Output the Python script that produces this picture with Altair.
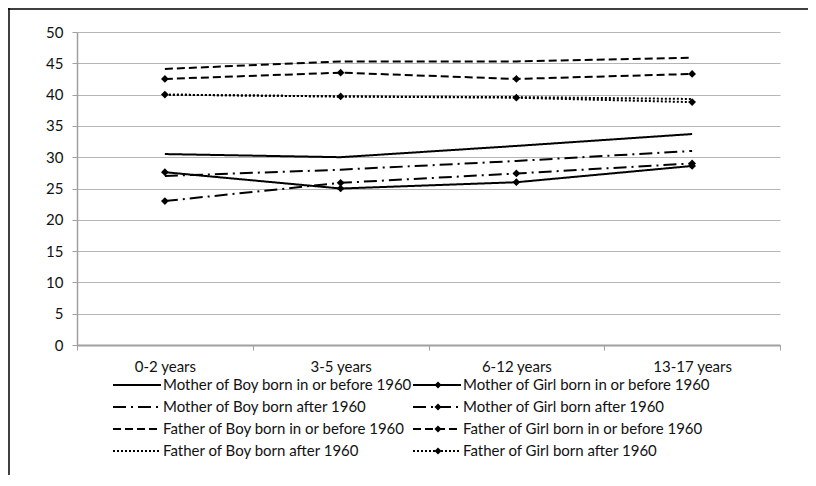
import altair as alt
import pandas as pd

categories = ["0-2 years", "3-5 years", "6-12 years", "13-17 years"]

# legend reads column by column: boys in the left column, girls in the right
series_names = [
    "Mother of Boy born in or before 1960",
    "Mother of Boy born after 1960",
    "Father of Boy born in or before 1960",
    "Father of Boy born after 1960",
    "Mother of Girl born in or before 1960",
    "Mother of Girl born after 1960",
    "Father of Girl born in or before 1960",
    "Father of Girl born after 1960",
]

mother_boy_before = [30.5, 30.0, 31.8, 33.7]
mother_boy_after = [27.0, 28.0, 29.4, 31.0]
father_boy_before = [44.1, 45.3, 45.3, 45.9]
father_boy_after = [40.0, 39.7, 39.6, 39.3]
mother_girl_before = [27.6, 25.0, 26.0, 28.6]
mother_girl_after = [23.0, 25.9, 27.4, 29.0]
father_girl_before = [42.5, 43.5, 42.5, 43.3]
father_girl_after = [40.0, 39.7, 39.5, 38.8]

series_values = [
    mother_boy_before, mother_boy_after, father_boy_before, father_boy_after,
    mother_girl_before, mother_girl_after, father_girl_before, father_girl_after,
]
has_marker = [False, False, False, False, True, True, True, True]

rows = []
for name, vals, mk in zip(series_names, series_values, has_marker):
    for c, v in zip(categories, vals):
        rows.append({"series": name, "age": c, "value": v, "marker": mk})
df = pd.DataFrame(rows)

# legend table: entry index -> column / row of a 2x4 grid
leg_df = pd.DataFrame({
    "series": series_names,
    "col": [i // 4 for i in range(len(series_names))],
    "row": [i % 4 for i in range(len(series_names))],
    "marker": has_marker,
})

dash_range = [[1, 0], [13, 5, 2, 5], [8, 4], [2, 2],
              [1, 0], [13, 5, 2, 5], [8, 4], [2, 2]]

FONT = "Lato"
FS = 15
TXT = "#111"

x_enc = alt.X("age:N", sort=categories,
              scale=alt.Scale(type="band", domain=categories, paddingInner=0, paddingOuter=0),
              axis=alt.Axis(title=None, labelAngle=0, tickBand="extent", tickSize=5,
                            domainColor="#a0a0a0", domainWidth=2, tickColor="#a0a0a0",
                            labelPadding=9, grid=False, labelFontSize=FS, labelColor=TXT))
y_enc = alt.Y("value:Q",
              scale=alt.Scale(domain=[0, 50], nice=False, zero=True),
              axis=alt.Axis(title=None, values=list(range(0, 51, 5)), tickSize=5,
                            domainColor="#a0a0a0", domainWidth=1.5, tickColor="#a0a0a0",
                            gridColor="#b5b5b5", gridWidth=1, labelPadding=9,
                            labelFontSize=FS, labelColor=TXT))

dash_scale = alt.Scale(domain=series_names, range=dash_range)

lines = alt.Chart(df).mark_line(color="black", strokeWidth=2).encode(
    x=x_enc, y=y_enc,
    strokeDash=alt.StrokeDash("series:N", scale=dash_scale, legend=None),
    detail="series:N",
)

points = alt.Chart(df).transform_filter("datum.marker").mark_point(
    shape="diamond", filled=True, color="black", size=60, opacity=1
).encode(x=x_enc, y=y_enc)

main = alt.layer(lines, points)

# hand-built legend (line sample + optional diamond + label)
lx = alt.X("col:Q", scale=alt.Scale(domain=[0, 1], range=[36, 336]), axis=None)
ly = alt.Y("row:Q", scale=alt.Scale(domain=[0, 3], range=[353, 419]), axis=None)

leg_lines = alt.Chart(leg_df).mark_rule(color="black", strokeWidth=2, x2Offset=48).encode(
    x=lx, x2=alt.X2("col:Q"), y=ly,
    strokeDash=alt.StrokeDash("series:N", scale=dash_scale, legend=None),
)
leg_pts = alt.Chart(leg_df).transform_filter("datum.marker").mark_point(
    shape="diamond", filled=True, color="black", size=50, opacity=1, xOffset=25
).encode(x=lx, y=ly)
leg_txt = alt.Chart(leg_df).mark_text(
    align="left", baseline="middle", dx=50, font=FONT, fontSize=FS, color=TXT
).encode(x=lx, y=ly, text="series:N")

legend = alt.layer(leg_lines, leg_pts, leg_txt)

frame_df = pd.DataFrame({"k": [0]})
frame_top = alt.Chart(frame_df).mark_rule(color="black", strokeWidth=1.5).encode(
    x=alt.value(-69), x2=alt.value(740), y=alt.value(-23))
frame_left = alt.Chart(frame_df).mark_rule(color="black", strokeWidth=1.5).encode(
    x=alt.value(-68), y=alt.value(-24), y2=alt.value(460))

chart = alt.layer(main, legend, frame_top, frame_left).resolve_scale(
    x="independent", y="independent"
).properties(
    width=703, height=313,
    autosize=alt.AutoSizeParams(type="none"),
    padding={"left": 69, "top": 24, "right": 28, "bottom": 130},
).configure_view(stroke=None).configure_axis(labelFont=FONT)

chart.save("out.html", embed_options={"renderer": "svg", "actions": False})
